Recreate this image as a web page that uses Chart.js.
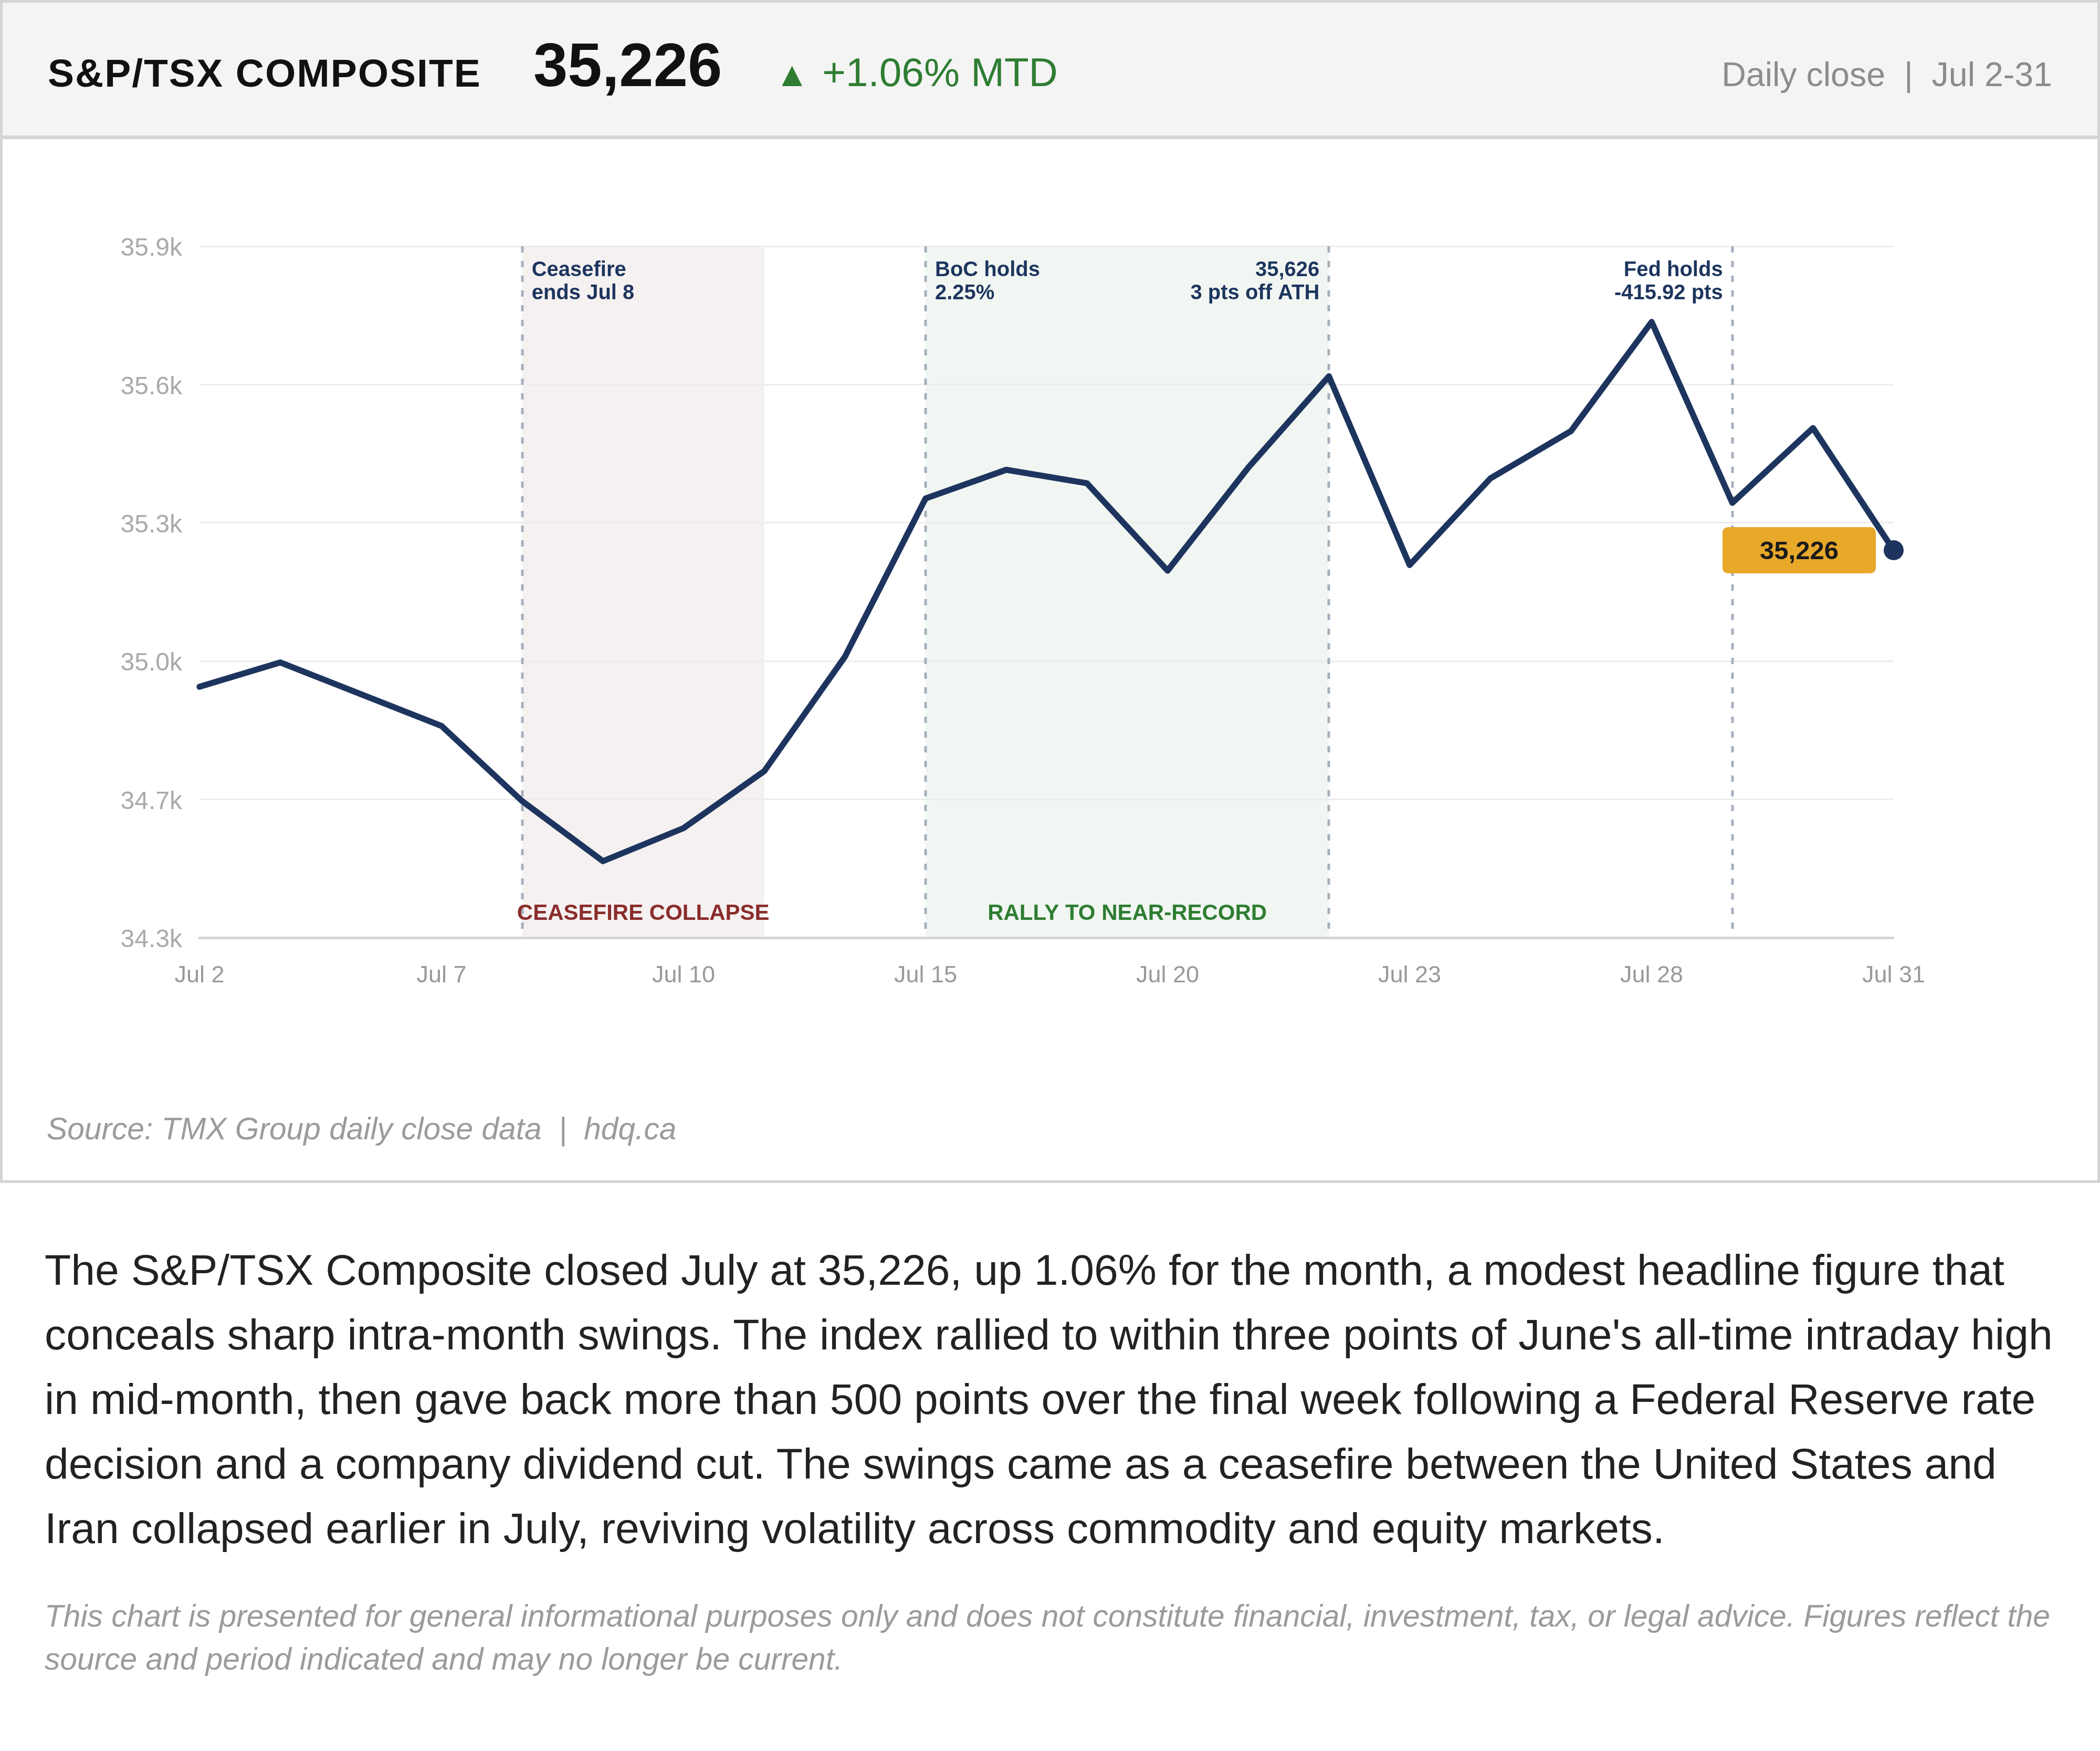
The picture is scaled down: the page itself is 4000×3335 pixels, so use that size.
<!DOCTYPE html>
<html>
<head>
<meta charset="utf-8">
<script src="https://cdn.jsdelivr.net/npm/chart.js@4.4.1/dist/chart.umd.min.js"></script>
<style>
  html, body { margin: 0; padding: 0; background: #fff; }
  body { width: 4000px; height: 3335px; position: relative; overflow: hidden; font-family: 'Liberation Sans', Arial, sans-serif; }
  .card { position: absolute; left: 0; top: 0; width: 4000px; height: 2253px; box-sizing: border-box; border: 5px solid #d4d4d4; }
  .head { position: absolute; left: 5px; top: 5px; width: 3990px; height: 253px; background: #f4f4f4; border-bottom: 7px solid #d4d4d4; }
  .t { position: absolute; white-space: nowrap; }
  #titulo { left: 91px; top: 89px; font-size: 75px; line-height: 100px; font-weight: bold; letter-spacing: 2px; color: #111; }
  #valor { left: 1016px; top: 54px; font-size: 117.5px; line-height: 140px; font-weight: bold; color: #111; }
  #cambio { left: 1476px; top: 88px; font-size: 76.5px; line-height: 100px; color: #2e7d32; }
  #periodo { right: 91px; top: 92px; font-size: 64.5px; line-height: 100px; color: #8c8c8c; }
  #fuente { left: 89px; top: 2110px; font-size: 58.7px; line-height: 80px; font-style: italic; color: #9b9b9b; }
  #texto { position: absolute; left: 85px; top: 2357px; width: 3835px; font-size: 82.3px; line-height: 123px; color: #222; margin: 0; }
  #aviso { position: absolute; left: 85px; top: 3037px; width: 3835px; font-size: 58.7px; line-height: 82px; font-style: italic; color: #9b9b9b; margin: 0; }
  #caja { position: absolute; left: 0; top: 265px; width: 4000px; height: 1641px; }
</style>
</head>
<body>
<div class="card"></div>
<div class="head"></div>
<div class="t" id="titulo">S&amp;P/TSX COMPOSITE</div>
<div class="t" id="valor">35,226</div>
<div class="t" id="cambio"><span style="font-size:66px">▲</span><span style="margin-left:25px">+1.06% MTD</span></div>
<div class="t" id="periodo">Daily close&nbsp; | &nbsp;Jul 2-31</div>
<div id="caja"><canvas id="grafica" width="4000" height="1641"></canvas></div>
<div class="t" id="fuente">Source: TMX Group daily close data&nbsp; | &nbsp;hdq.ca</div>
<p id="texto">The S&amp;P/TSX Composite closed July at 35,226, up 1.06% for the month, a modest headline figure that conceals sharp intra-month swings. The index rallied to within three points of June's all-time intraday high in mid-month, then gave back more than 500 points over the final week following a Federal Reserve rate decision and a company dividend cut. The swings came as a ceasefire between the United States and Iran collapsed earlier in July, reviving volatility across commodity and equity markets.</p>
<p id="aviso">This chart is presented for general informational purposes only and does not constitute financial, investment, tax, or legal advice. Figures reflect the source and period indicated and may no longer be current.</p>
<script>
// Datos: cierres diarios del S&P/TSX en julio
const fechas = ['Jul 2', 'Jul 3', 'Jul 6', 'Jul 7', 'Jul 8', 'Jul 9', 'Jul 10', 'Jul 13', 'Jul 14', 'Jul 15', 'Jul 16',
                'Jul 17', 'Jul 20', 'Jul 21', 'Jul 22', 'Jul 23', 'Jul 24', 'Jul 27', 'Jul 28', 'Jul 29', 'Jul 30', 'Jul 31'];
const cierres = [34912, 34968, 34895, 34822, 34649, 34511, 34587, 34718, 34981, 35345, 35411,
                 35380, 35179, 35416, 35626, 35192, 35391, 35500, 35751, 35335, 35507, 35226];
const etiquetasX = ['Jul 2', 'Jul 7', 'Jul 10', 'Jul 15', 'Jul 20', 'Jul 23', 'Jul 28', 'Jul 31'];
const ticksY = [34335, 34653, 34971, 35289, 35607, 35925];

// Eventos (lineas punteadas) y zonas sombreadas
const fechasEventos = ['Jul 8', 'Jul 15', 'Jul 22', 'Jul 29'];
const notasEventos = [['Ceasefire', 'ends Jul 8'], ['BoC holds', '2.25%'], ['35,626', '3 pts off ATH'], ['Fed holds', '-415.92 pts']];
const rangosZonas = [['Jul 8', 'Jul 13'], ['Jul 15', 'Jul 22']];
const nombresZonas = ['CEASEFIRE COLLAPSE', 'RALLY TO NEAR-RECORD'];

const FUENTE = "'Liberation Sans', Arial, sans-serif";
const AZUL = '#1d355e';
const rellenoZonas = ['#f5f1f1', '#f1f6f2'];
const tintaZonas = ['#8b2c2c', '#2e7d32'];
const ladoNotas = ['right', 'right', 'left', 'left'];

const anotaciones = {
    id: 'anotaciones',
    beforeDraw(chart) {
        const { ctx, chartArea: a, scales: { x } } = chart;
        ctx.save();
        rangosZonas.forEach((r, i) => {
            const x0 = x.getPixelForValue(fechas.indexOf(r[0]));
            const x1 = x.getPixelForValue(fechas.indexOf(r[1]));
            ctx.fillStyle = rellenoZonas[i];
            ctx.fillRect(x0, a.top, x1 - x0, a.bottom - a.top);
        });
        ctx.restore();
    },
    beforeDatasetsDraw(chart) {
        const { ctx, chartArea: a, scales: { x } } = chart;
        ctx.save();
        ctx.strokeStyle = '#a5afbd';
        ctx.lineWidth = 5;
        ctx.setLineDash([12, 16]);
        fechasEventos.forEach(f => {
            const px = Math.round(x.getPixelForValue(fechas.indexOf(f)));
            ctx.beginPath();
            ctx.moveTo(px, a.top);
            ctx.lineTo(px, a.bottom - 6);
            ctx.stroke();
        });
        ctx.setLineDash([]);
        // etiquetas de las zonas
        ctx.font = 'bold 42px ' + FUENTE;
        ctx.textAlign = 'center';
        ctx.textBaseline = 'alphabetic';
        rangosZonas.forEach((r, i) => {
            const x0 = x.getPixelForValue(fechas.indexOf(r[0]));
            const x1 = x.getPixelForValue(fechas.indexOf(r[1]));
            ctx.fillStyle = tintaZonas[i];
            ctx.fillText(nombresZonas[i], (x0 + x1) / 2, a.bottom - 34);
        });
        // notas de los eventos
        ctx.font = 'bold 40px ' + FUENTE;
        ctx.fillStyle = AZUL;
        fechasEventos.forEach((f, i) => {
            const px = x.getPixelForValue(fechas.indexOf(f));
            const derecha = ladoNotas[i] === 'right';
            ctx.textAlign = derecha ? 'left' : 'right';
            const tx = derecha ? px + 18 : px - 18;
            notasEventos[i].forEach((linea, j) => ctx.fillText(linea, tx, a.top + 57 + j * 44));
        });
        ctx.restore();
    },
    afterDatasetsDraw(chart) {
        const { ctx } = chart;
        const ultimo = chart.getDatasetMeta(0).data[cierres.length - 1];
        const w = 292, h = 88;
        const bx = ultimo.x - 34 - w, by = ultimo.y - h / 2;
        ctx.save();
        ctx.fillStyle = '#e8a82a';
        ctx.beginPath();
        ctx.roundRect(bx, by, w, h, 10);
        ctx.fill();
        ctx.fillStyle = '#1a1a1a';
        ctx.font = 'bold 49px ' + FUENTE;
        ctx.textAlign = 'center';
        ctx.textBaseline = 'alphabetic';
        ctx.fillText(cierres[cierres.length - 1].toLocaleString('en-US'), bx + w / 2, ultimo.y + 17);
        ctx.restore();
    }
};

const $grafica = document.querySelector('#grafica');

new Chart($grafica, {
    type: 'line',
    data: {
        labels: fechas,
        datasets: [{
            data: cierres,
            borderColor: AZUL,
            borderWidth: 11.5,
            borderJoinStyle: 'round',
            borderCapStyle: 'round',
            tension: 0,
            fill: false,
            clip: false,
            pointRadius: c => c.dataIndex === cierres.length - 1 ? 19 : 0,
            pointHoverRadius: c => c.dataIndex === cierres.length - 1 ? 19 : 0,
            pointBackgroundColor: AZUL,
            pointBorderWidth: 0
        }]
    },
    options: {
        responsive: false,
        devicePixelRatio: 1,
        animation: false,
        events: [],
        layout: { padding: { top: 204, right: 393, left: 0, bottom: 0 } },
        plugins: { legend: { display: false }, tooltip: { enabled: false } },
        scales: {
            x: {
                grid: { display: false, drawTicks: false },
                border: { display: true, color: '#d6d6d6', width: 5 },
                ticks: {
                    autoSkip: false, maxRotation: 0, padding: 46, color: '#999999',
                    font: { size: 45, family: FUENTE },
                    callback: (v, i) => etiquetasX.includes(fechas[i]) ? fechas[i] : ''
                },
                afterFit: s => { s.height = 120; }
            },
            y: {
                min: ticksY[0],
                max: ticksY[ticksY.length - 1],
                afterBuildTicks: s => { s.ticks = ticksY.map(v => ({ value: v })); },
                grid: { color: '#ececec', lineWidth: 3, drawTicks: false },
                border: { display: false },
                ticks: {
                    padding: 33, labelOffset: 5, color: '#aaaaaa',
                    font: { size: 48, family: FUENTE },
                    callback: v => (v / 1000).toFixed(1) + 'k'
                },
                afterFit: s => { s.width = 380; }
            }
        }
    },
    plugins: [anotaciones]
});
</script>
</body>
</html>
